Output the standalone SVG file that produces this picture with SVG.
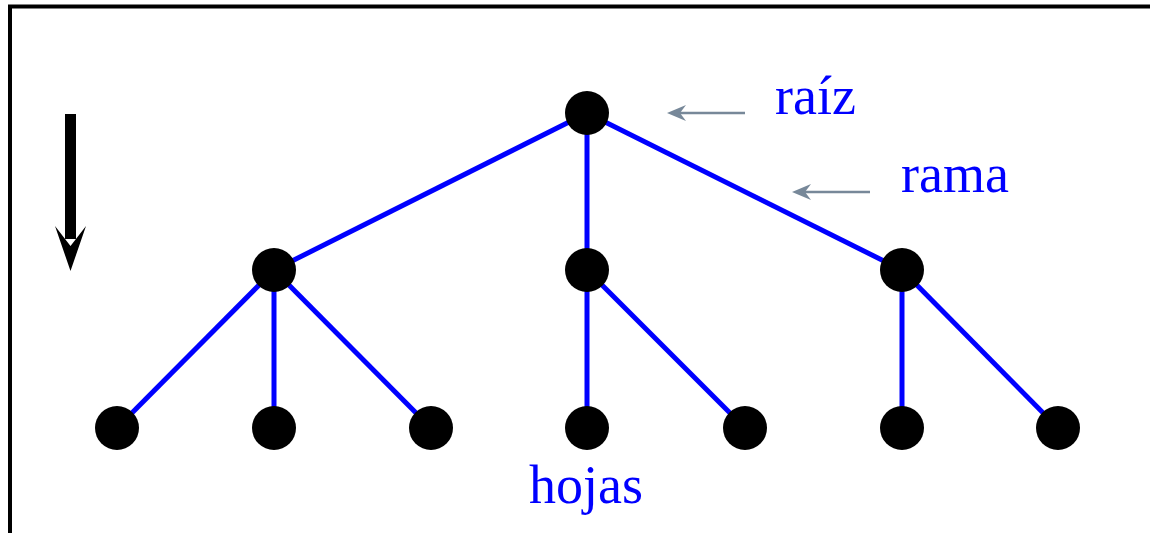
<svg xmlns="http://www.w3.org/2000/svg" width="1150" height="533" viewBox="0 0 1150 533">
<style>
.edge{stroke:#0000ff;stroke-width:5;fill:none}
.node{fill:#000}
.lbl{font-family:"Liberation Serif","Times New Roman",serif;font-size:54px;fill:#0000ff}
.ptr{stroke:#778899;stroke-width:2.5;fill:none}
.ptrhead{fill:#778899}
</style>
<rect x="10" y="6.5" width="1300" height="700" fill="none" stroke="#000" stroke-width="4"/>
<g id="direction">
<rect x="65" y="114" width="11" height="125" fill="#000"/>
<path d="M55,226 L70.5,246 L86,226 L70.5,271 Z" fill="#000"/>
</g>
<g id="connectors">
<line class="edge" x1="587" y1="113" x2="274" y2="270"/>
<line class="edge" x1="587" y1="113" x2="587" y2="270"/>
<line class="edge" x1="587" y1="113" x2="902" y2="270"/>
<line class="edge" x1="274" y1="270" x2="117" y2="428"/>
<line class="edge" x1="274" y1="270" x2="274" y2="428"/>
<line class="edge" x1="274" y1="270" x2="431" y2="428"/>
<line class="edge" x1="587" y1="270" x2="587" y2="428"/>
<line class="edge" x1="587" y1="270" x2="745" y2="428"/>
<line class="edge" x1="902" y1="270" x2="902" y2="428"/>
<line class="edge" x1="902" y1="270" x2="1058" y2="428"/>
<line class="ptr" x1="745" y1="113" x2="672" y2="113"/>
<path class="ptrhead" d="M667,113 L686,105 L680,113 L686,121 Z"/>
<line class="ptr" x1="870" y1="192" x2="797" y2="192"/>
<path class="ptrhead" d="M792,192 L811,184 L805,192 L811,200 Z"/>
</g>
<g id="root"><circle class="node" cx="587" cy="113" r="22"/></g>
<g id="m1"><circle class="node" cx="274" cy="270" r="22"/></g>
<g id="m2"><circle class="node" cx="587" cy="270" r="22"/></g>
<g id="m3"><circle class="node" cx="902" cy="270" r="22"/></g>
<g id="l1"><circle class="node" cx="117" cy="428" r="22"/></g>
<g id="l2"><circle class="node" cx="274" cy="428" r="22"/></g>
<g id="l3"><circle class="node" cx="431" cy="428" r="22"/></g>
<g id="l4"><circle class="node" cx="587" cy="428" r="22"/></g>
<g id="l5"><circle class="node" cx="745" cy="428" r="22"/></g>
<g id="l6"><circle class="node" cx="902" cy="428" r="22"/></g>
<g id="l7"><circle class="node" cx="1058" cy="428" r="22"/></g>
<g id="labels">
<text class="lbl" x="775" y="114">raíz</text>
<text class="lbl" x="901" y="192">rama</text>
<text class="lbl" x="529" y="503">hojas</text>
</g>
</svg>
